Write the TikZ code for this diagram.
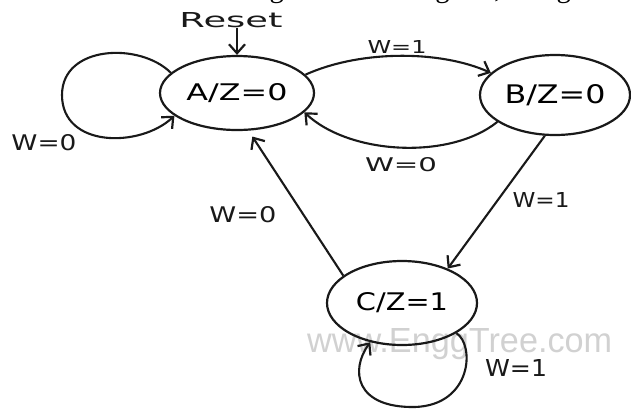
\documentclass[tikz,border=0pt]{standalone}
\usepackage{fontspec}
\setmainfont{DejaVu Sans}
\newfontfamily\headfont{Liberation Serif}
\newfontfamily\wmfont{Liberation Sans}
\usetikzlibrary{shapes.geometric,arrows.meta}
\newcommand\hwtext[3]{\resizebox{#1pt}{#2pt}{#3}}
\begin{document}
\begin{tikzpicture}[x=1pt,y=-1pt,
  ink/.style={draw=black!90},
  statebox/.style={ink,ellipse,line width=2.2pt,inner sep=0pt},
  edgeline/.style={ink,line width=2.1pt,-{Straight Barb[length=9pt,width=16pt,line width=2.2pt]}},
  lbl/.style={inner sep=0pt,text=black!90},
  wm/.style={inner sep=0pt,text=black!18}]
\useasboundingbox (0,0) rectangle (631,410);
\clip (0,0) rectangle (631,410);
% cut-off heading line and watermark
\node[inner sep=0pt,anchor=base west] (head) at (-4,-3)
  {\headfont\fontsize{28.7pt}{30pt}\selectfont the VHDL code for the given state diagram, using con};
\node[wm,anchor=base west] (mark) at (307,352) {\wmfont\resizebox{305pt}{24pt}{www.EnggTree.com}};
% states
\node[statebox,minimum width=154pt,minimum height=74pt] (A) at (237,93) {\hwtext{101}{17}{A/Z=0}};
\node[statebox,minimum width=150pt,minimum height=80pt] (B) at (555,95) {\hwtext{101}{19}{B/Z=0}};
\node[statebox,minimum width=150pt,minimum height=84pt] (C) at (402,303) {\hwtext{92}{18}{C/Z=1}};
% reset
\node[lbl] (reset) at (231,20) {\hwtext{103}{15}{Reset}};
\coordinate (rs) at (237,28);
\draw[edgeline] (rs) -- (A.north);
% A self loop
\draw[edgeline] (A.163) .. controls (140,42) and (62,45) .. (62,95)
  .. controls (62,148) and (140,148) .. (A.200);
\node[lbl] (lAA) at (44,143) {\hwtext{65}{16}{W=0}};
% A -> B
\draw[edgeline] (A.15) .. controls (360,50) and (440,50) .. (B.161);
\node[lbl] (lAB) at (397,47) {\hwtext{59}{13}{W=1}};
% B -> A
\draw[edgeline] (B.205) .. controls (450,160) and (350,155) .. (A.344);
\node[lbl] (lBA) at (401,165) {\hwtext{72}{14}{W=0}};
% B -> C
\draw[edgeline] (B.256) -- (C.37);
\node[lbl] (lBC) at (541,200) {\hwtext{57}{15}{W=1}};
% C -> A
\draw[edgeline,shorten >=7pt] (C.155) -- (A.287);
\node[lbl] (lCA) at (243,215) {\hwtext{67}{16}{W=0}};
% C self loop
\draw[edgeline] (C.331) .. controls (475,345) and (472,405) .. (415,407)
  .. controls (355,408) and (350,370) .. (C.231);
\node[lbl] (lCC) at (516,368) {\hwtext{62}{17}{W=1}};
\end{tikzpicture}
\end{document}
